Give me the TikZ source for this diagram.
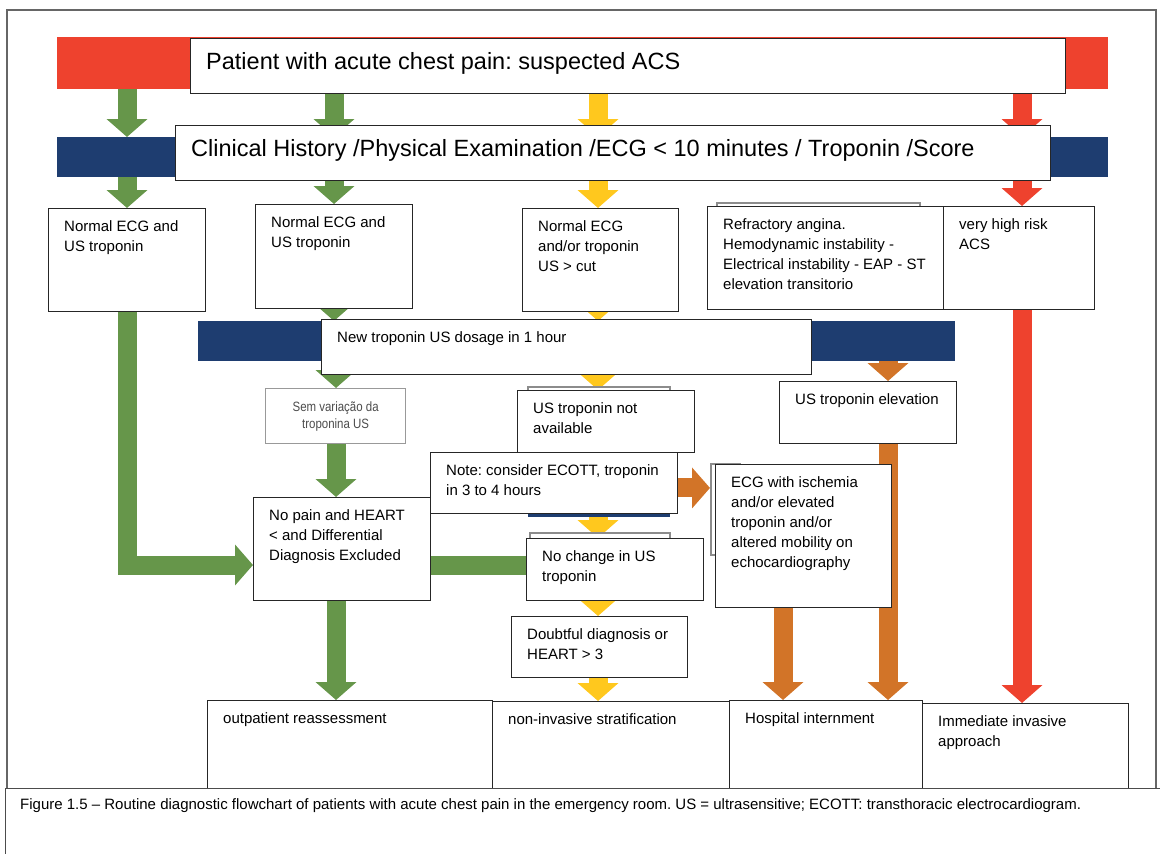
\documentclass[tikz,border=0pt]{standalone}
\usepackage{fontspec}
\setmainfont{Liberation Sans}
\newfontfamily\narrowfont[FakeStretch=0.85]{Liberation Sans}
\usetikzlibrary{arrows.meta}
\pgfdeclarelayer{bg}
\pgfsetlayers{bg,main}
\definecolor{acsred}{RGB}{238,66,46}
\definecolor{acsgreen}{RGB}{102,150,74}
\definecolor{acsyellow}{RGB}{255,200,30}
\definecolor{acsblue}{RGB}{30,61,112}
\definecolor{acsorange}{RGB}{210,116,40}
\tikzset{
  bar/.style={anchor=north west, inner sep=0pt, minimum height=40pt},
  box/.style={draw=black!85, line width=0.9pt, fill=white, anchor=north west, inner sep=0pt},
  txt/.style={anchor=north west, align=left, inner sep=0pt, font=\fontsize{15}{20}\selectfont, xshift=16pt, yshift=-12pt},
  bigtxt/.style={txt, font=\fontsize{23.5}{28}\selectfont, yshift=-2pt},
  flow/.style={line width=19pt, -{Triangle[width=40pt,length=18pt]}},
  shaft/.style={line width=19pt},
  ghost/.style={draw=black!45, line width=1.4pt, fill=white}
}

\begin{document}
\frenchspacing
\begin{tikzpicture}[x=1pt, y=-1pt]
  \useasboundingbox (0,0) rectangle (1160,854);
  \draw[black!60, line width=1.6pt] (7,10) rectangle (1156,795);
  \coordinate (colA) at (127,0);
  \coordinate (colB) at (334,0);
  \coordinate (gcol) at (336,0);
  \coordinate (colC) at (598,0);
  \coordinate (colF) at (783,0);
  \coordinate (colD) at (888,0);
  \coordinate (colE) at (1022,0);
  \coordinate (gjoin) at (0,565);

  \node[bar, fill=acsred, minimum width=1051pt, minimum height=52pt] (redbar) at (57,37) {};
  \node[bar, fill=acsblue, minimum width=1051pt] (bluebar) at (57,137) {};
  \node[box, minimum width=875pt, minimum height=55pt,
    label={[bigtxt]north west:{Patient with acute chest pain: suspected ACS}}] (title) at (190,38) {};
  \node[box, minimum width=875pt, minimum height=55pt,
    label={[bigtxt]north west:{Clinical History /Physical Examination /ECG < 10 minutes / Troponin /Score}}] (clin) at (175,125) {};

  % first row
  \node[box, minimum width=157pt, minimum height=103pt, label={[txt]north west:{Normal ECG and\\US troponin}}] (ecgA) at (48,208) {};
  \node[box, minimum width=157pt, minimum height=104pt, label={[txt]north west:{Normal ECG and\\US troponin}}] (ecgB) at (255,204) {};
  \node[box, minimum width=156pt, minimum height=103pt, label={[txt]north west:{Normal ECG\\and/or troponin\\US > cut}}] (ecgC) at (522,208) {};
  \draw[ghost] (717,203) rectangle (920,230);
  \node[box, minimum width=236pt, minimum height=103pt,
    label={[txt]north west:{Refractory angina.\\Hemodynamic instability -\\Electrical instability - EAP - ST\\elevation transitorio}}] (refr) at (707,206) {};
  \node[box, minimum width=151pt, minimum height=103pt, label={[txt]north west:{very high risk\\ACS}}] (vhr) at (943,206) {};

  % second bar
  \node[bar, fill=acsblue, minimum width=757pt] (bluebar2) at (198,321) {};
  \node[box, minimum width=490pt, minimum height=55pt, label={[txt]north west:{New troponin US dosage in 1 hour}}] (newtrop) at (321,319) {};

  \node[box, draw=black!40, line width=1.3pt, minimum width=140pt, minimum height=55pt, align=center,
    font=\narrowfont\fontsize{13.5}{17}\selectfont, text=black!70] (sem) at (265,388) {Sem variação da\\troponina US};
  \draw[ghost] (528,387) rectangle (670,400);
  \node[box, minimum width=177pt, minimum height=62pt, label={[txt]north west:{US troponin not\\available}}] (notavail) at (517,390) {};
  \node[box, minimum width=177pt, minimum height=62pt, label={[txt]north west:{US troponin elevation}}] (elev) at (779,381) {};

  \node[bar, fill=acsblue, minimum width=142pt, minimum height=37pt] (bluebar3) at (528,480) {};
  \node[box, minimum width=247pt, minimum height=61pt, label={[txt]north west:{Note: consider ECOTT, troponin\\in 3 to 4 hours}}] (note) at (430,452) {};
  \node[box, minimum width=177pt, minimum height=103pt,
    label={[txt]north west:{No pain and HEART\\< and Differential\\Diagnosis Excluded}}] (nopain) at (253,497) {};
  \draw[ghost] (530,533) rectangle (670,545);
  \node[box, minimum width=177pt, minimum height=62pt, label={[txt]north west:{No change in US\\troponin}}] (nochange) at (526,538) {};
  \node[box, minimum width=176pt, minimum height=61pt, label={[txt]north west:{Doubtful diagnosis or\\HEART > 3}}] (doubt) at (511,616) {};
  \draw[ghost] (711,464) rectangle (740,555);
  \node[box, minimum width=176pt, minimum height=143pt,
    label={[txt]north west:{ECG with ischemia\\and/or elevated\\troponin and/or\\altered mobility on\\echocardiography}}] (ecg) at (715,464) {};
  \coordinate (ecgin) at ([xshift=-5pt]ecg.west);
  \coordinate (orgo) at ([yshift=-5pt]note.east);

  % outcomes
  \node[box, minimum width=285pt, minimum height=95pt, label={[txt]north west:{outpatient reassessment}}] (outpat) at (207,700) {};
  \node[box, minimum width=237pt, minimum height=94pt, label={[txt]north west:{non-invasive stratification}}] (noninv) at (492,701) {};
  \node[box, minimum width=193pt, minimum height=95pt, label={[txt]north west:{Hospital internment}}] (hosp) at (729,700) {};
  \node[box, minimum width=206pt, minimum height=92pt, label={[txt]north west:{Immediate invasive\\approach}}] (immed) at (922,703) {};

  \node[box, draw=black!70, minimum width=1170pt, minimum height=80pt,
    label={[txt, font=\fontsize{15}{18}\selectfont, xshift=-1pt, yshift=2pt]north west:{Figure 1.5 – Routine diagnostic flowchart of patients with acute chest pain in the emergency room. US = ultrasensitive; ECOTT: transthoracic electrocardiogram.}}] (capbox) at (5,788) {};

  \begin{pgfonlayer}{bg}
    \draw[flow, acsgreen] (redbar.center -| colA) -- (bluebar.north -| colA);
    \draw[flow, acsgreen] (redbar.center -| colB) -- (bluebar.north -| colB);
    \draw[flow, acsyellow] (redbar.center -| colC) -- (bluebar.north -| colC);
    \draw[flow, acsred] (redbar.center -| colE) -- (bluebar.north -| colE);
    \draw[flow, acsgreen] (bluebar.center -| colA) -- (ecgA.north -| colA);
    \draw[flow, acsgreen] (bluebar.center -| colB) -- (ecgB.north -| colB);
    \draw[flow, acsyellow] (bluebar.center -| colC) -- (ecgC.north -| colC);
    \draw[flow, acsred] (bluebar.center -| colE) -- (vhr.north -| colE);
    \draw[flow, acsgreen] (ecgA.center -| colA) |- (nopain.west |- gjoin);
    \draw[flow, acsgreen] (ecgB.center -| colB) -- (bluebar2.north -| colB);
    \draw[flow, acsyellow] (ecgC.center -| colC) -- (bluebar2.north -| colC);
    \draw[flow, acsorange] (bluebar2.center -| colD) -- (elev.north -| colD);
    \draw[flow, acsgreen] (newtrop.center -| gcol) -- (sem.north -| gcol);
    \draw[flow, acsyellow] (newtrop.center -| colC) -- (notavail.north -| colC);
    \draw[flow, acsgreen] (sem.center -| gcol) -- (nopain.north -| gcol);
    \draw[flow, acsyellow] (notavail.center -| colC) -- (nochange.north -| colC);
    \draw[flow, acsorange] (note.center |- orgo) -- (orgo -| ecgin);
    \draw[shaft, acsgreen] (nopain.center |- gjoin) -- (nochange.center |- gjoin);
    \draw[flow, acsyellow] (nochange.center -| colC) -- (doubt.north -| colC);
    \draw[flow, acsyellow] (doubt.center -| colC) -- (noninv.north -| colC);
    \draw[flow, acsgreen] (nopain.center -| gcol) -- (outpat.north -| gcol);
    \draw[flow, acsorange] (ecg.center -| colF) -- (hosp.north -| colF);
    \draw[flow, acsorange] (elev.center -| colD) -- (hosp.north -| colD);
    \draw[flow, acsred] (vhr.center -| colE) -- (immed.north -| colE);
  \end{pgfonlayer}
\end{tikzpicture}
\end{document}
